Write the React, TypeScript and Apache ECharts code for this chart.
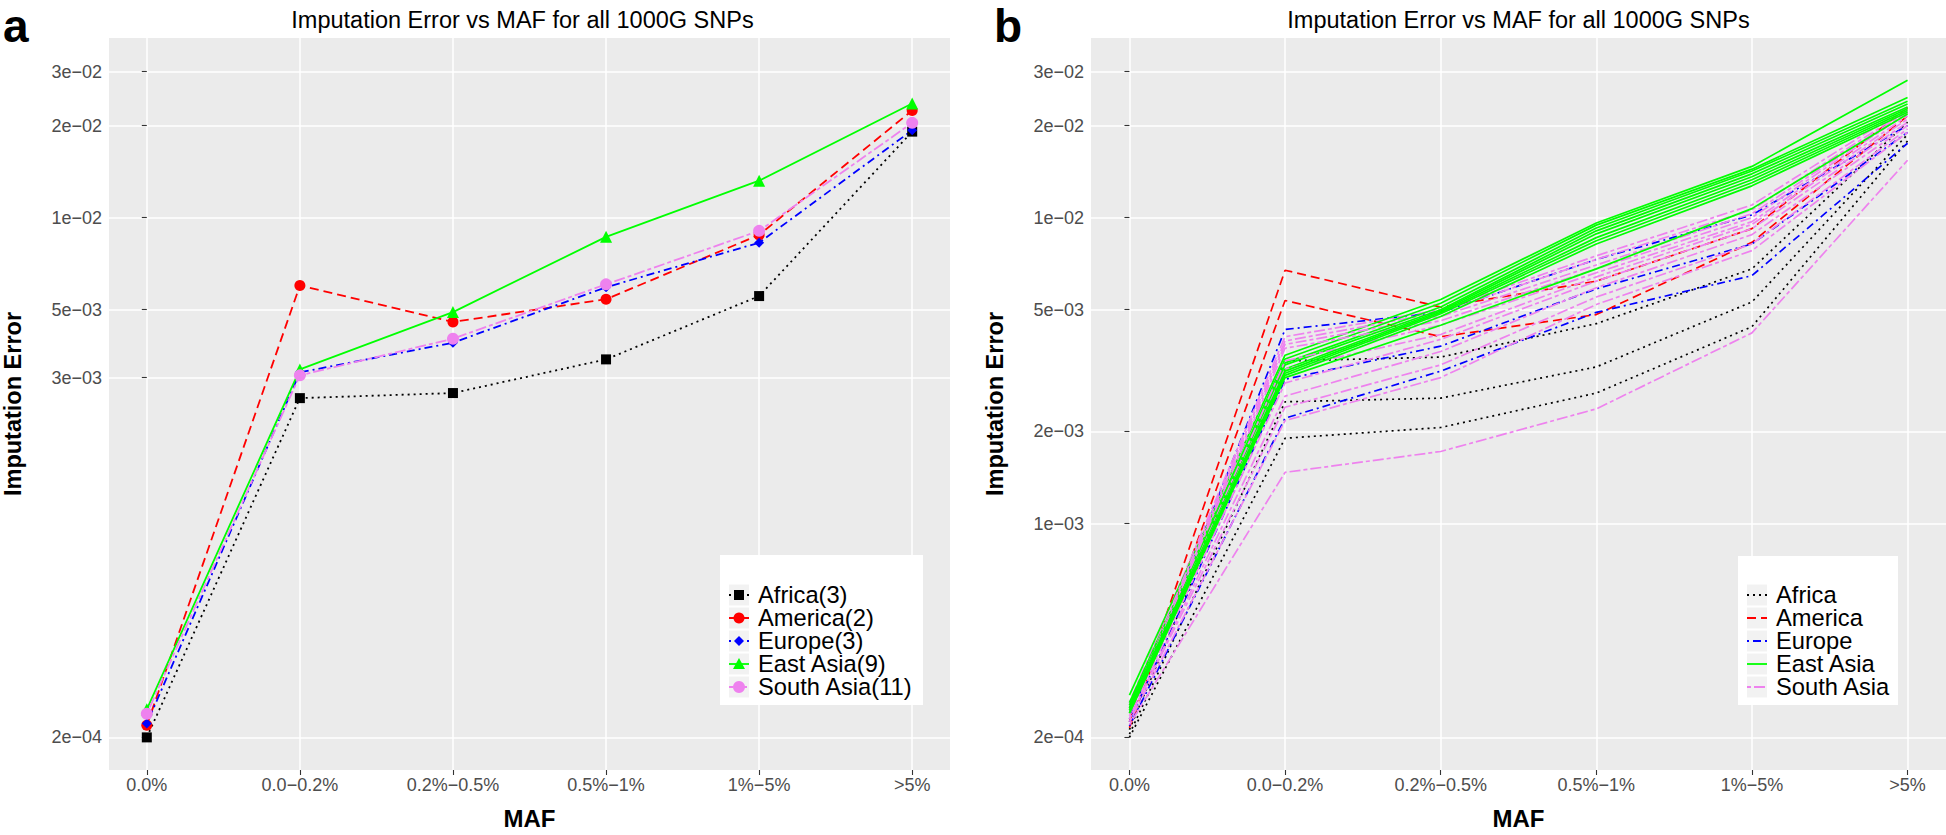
import { useEffect, useRef } from "react";
import * as echarts from "echarts";

// ---------- data ----------
const categories = ["0.0%", "0.0\u22120.2%", "0.2%\u22120.5%", "0.5%\u22121%", "1%\u22125%", ">5%"];
const panelTitle = "Imputation Error vs MAF for all 1000G SNPs";
const yAxisTitle = "Imputation Error";
const xAxisTitle = "MAF";

const yTicksA = [2e-4, 3e-3, 5e-3, 1e-2, 2e-2, 3e-2];
const yTickLabelsA = ["2e\u221204", "3e\u221203", "5e\u221203", "1e\u221202", "2e\u221202", "3e\u221202"];
const yTicksB = [2e-4, 1e-3, 2e-3, 5e-3, 1e-2, 2e-2, 3e-2];
const yTickLabelsB = ["2e\u221204", "1e\u221203", "2e\u221203", "5e\u221203", "1e\u221202", "2e\u221202", "3e\u221202"];

const regionsA = ["Africa(3)", "America(2)", "Europe(3)", "East Asia(9)", "South Asia(11)"];
const regionsB = ["Africa", "America", "Europe", "East Asia", "South Asia"];

// panel a: region averages
const africaMean = [2.0e-4, 2.57e-3, 2.67e-3, 3.44e-3, 5.54e-3, 1.91e-2];
const americaMean = [2.19e-4, 6.0e-3, 4.56e-3, 5.41e-3, 8.78e-3, 2.24e-2];
const europeMean = [2.22e-4, 3.12e-3, 3.9e-3, 5.92e-3, 8.28e-3, 1.93e-2];
const eastAsiaMean = [2.47e-4, 3.19e-3, 4.91e-3, 8.65e-3, 1.32e-2, 2.36e-2];
const southAsiaMean = [2.39e-4, 3.05e-3, 4.02e-3, 6.05e-3, 9.05e-3, 2.04e-2];

// panel b: individual populations
const africaPops = [
  [2.12e-4, 3.4e-3, 3.5e-3, 4.5e-3, 6.8e-3, 2.05e-2],
  [2.05e-4, 2.5e-3, 2.57e-3, 3.25e-3, 5.3e-3, 1.87e-2],
  [2.0e-4, 1.9e-3, 2.06e-3, 2.67e-3, 4.4e-3, 1.78e-2],
];
const americaPops = [
  [2.25e-4, 6.73e-3, 5.1e-3, 6.2e-3, 9.2e-3, 2.29e-2],
  [2.15e-4, 5.36e-3, 4.08e-3, 4.82e-3, 8.3e-3, 2.15e-2],
];
const europePops = [
  [2.3e-4, 4.31e-3, 4.9e-3, 7.3e-3, 1.02e-2, 2.0e-2],
  [2.25e-4, 2.96e-3, 3.8e-3, 5.85e-3, 8.2e-3, 1.9e-2],
  [2.18e-4, 2.21e-3, 3.15e-3, 4.9e-3, 6.46e-3, 1.75e-2],
];
const eastAsiaPops = [
  [2.75e-4, 3.55e-3, 5.4e-3, 9.6e-3, 1.47e-2, 2.81e-2],
  [2.6e-4, 3.45e-3, 5.25e-3, 9.45e-3, 1.44e-2, 2.47e-2],
  [2.55e-4, 3.35e-3, 5.1e-3, 9.25e-3, 1.42e-2, 2.4e-2],
  [2.5e-4, 3.3e-3, 5.0e-3, 9.05e-3, 1.39e-2, 2.35e-2],
  [2.5e-4, 3.2e-3, 4.95e-3, 8.85e-3, 1.36e-2, 2.3e-2],
  [2.45e-4, 3.15e-3, 4.9e-3, 8.6e-3, 1.33e-2, 2.27e-2],
  [2.45e-4, 3.1e-3, 4.85e-3, 8.4e-3, 1.3e-2, 2.24e-2],
  [2.4e-4, 3.05e-3, 4.75e-3, 8.2e-3, 1.27e-2, 2.21e-2],
  [2.4e-4, 3.0e-3, 4.45e-3, 6.8e-3, 1.07e-2, 2.18e-2],
];
const southAsiaPops = [
  [2.6e-4, 4.08e-3, 5.0e-3, 7.5e-3, 1.1e-2, 2.3e-2],
  [2.55e-4, 3.95e-3, 4.9e-3, 7.3e-3, 1.06e-2, 2.25e-2],
  [2.5e-4, 3.85e-3, 4.75e-3, 7.0e-3, 1.03e-2, 2.22e-2],
  [2.45e-4, 3.74e-3, 4.6e-3, 6.8e-3, 1.0e-2, 2.2e-2],
  [2.4e-4, 3.4e-3, 4.45e-3, 6.6e-3, 9.7e-3, 2.15e-2],
  [2.4e-4, 3.2e-3, 4.15e-3, 6.4e-3, 9.5e-3, 2.1e-2],
  [2.35e-4, 2.88e-3, 4.0e-3, 6.2e-3, 9.2e-3, 2.05e-2],
  [2.3e-4, 2.61e-3, 3.65e-3, 5.9e-3, 8.8e-3, 2.0e-2],
  [2.3e-4, 2.4e-3, 3.3e-3, 5.5e-3, 8.2e-3, 1.95e-2],
  [2.25e-4, 2.17e-3, 3.0e-3, 5.2e-3, 7.8e-3, 1.9e-2],
  [2.2e-4, 1.47e-3, 1.72e-3, 2.37e-3, 4.2e-3, 1.54e-2],
];

// ---------- styles ----------
const FONT = "'Liberation Sans', Arial, Helvetica, sans-serif";
const styles = [
  { color: "#000000", dash: [2, 4], symbol: "rect", size: 10 },
  { color: "#FF0000", dash: [9, 5], symbol: "circle", size: 11 },
  { color: "#0000FF", dash: [2, 4, 8, 4], symbol: "diamond", size: 10 },
  { color: "#00FF00", dash: null as number[] | null, symbol: "triangle", size: 12 },
  { color: "#EE82EE", dash: [4, 3, 11, 3], symbol: "circle", size: 12 },
];

const GRID_TOP = 38;
const GRID_H = 740;
const GRID_W = 855;
const GRID_LEFT = [95, 1091];
const Y_MIN = 1.5647e-4;
const Y_MAX = 0.03864;
const X_MIN = -0.247;
const X_MAX = 5.247;

function tickLabel(ticks: number[], labels: string[]) {
  return (v: number) => {
    for (let i = 0; i < ticks.length; i++) {
      if (Math.abs(Math.log10(v) - Math.log10(ticks[i])) < 1e-4) return labels[i];
    }
    return "";
  };
}

function makeXAxis(gridIndex: number) {
  const idx = categories.map((_, i) => i);
  return {
    type: "value",
    gridIndex,
    min: X_MIN,
    max: X_MAX,
    axisLine: { show: false },
    axisTick: { show: true, customValues: idx, length: 5, lineStyle: { color: "#333333", width: 1.1 } },
    axisLabel: {
      customValues: idx,
      formatter: (v: number) => categories[Math.round(v)] ?? "",
      fontSize: 18,
      color: "#4d4d4d",
      margin: 6,
      fontFamily: FONT,
    },
    splitLine: { show: true, lineStyle: { color: "#ffffff", width: 1.5 } },
    name: xAxisTitle,
    nameLocation: "middle",
    nameGap: 36,
    nameTextStyle: { fontSize: 24, fontWeight: "bold", color: "#000000", fontFamily: FONT },
  };
}

function makeYAxis(gridIndex: number, ticks: number[], labels: string[]) {
  return {
    type: "log",
    logBase: 10,
    gridIndex,
    min: Y_MIN,
    max: Y_MAX,
    axisLine: { show: false },
    axisTick: { show: true, customValues: ticks, length: 5, lineStyle: { color: "#333333", width: 1.1 } },
    axisLabel: {
      customValues: ticks,
      formatter: tickLabel(ticks, labels),
      fontSize: 18,
      color: "#4d4d4d",
      margin: 7,
      fontFamily: FONT,
    },
    splitLine: { show: true, lineStyle: { color: "#ffffff", width: 1.5 } },
    minorSplitLine: { show: false },
    name: yAxisTitle,
    nameLocation: "middle",
    nameGap: 84,
    nameTextStyle: { fontSize: 23.5, fontWeight: "bold", color: "#000000", fontFamily: FONT },
  };
}

function legendGraphics(boxX: number, boxY: number, boxW: number, boxH: number, keyX: number, textX: number, names: string[], withSymbols: boolean) {
  const els: any[] = [];
  els.push({ type: "rect", shape: { x: boxX, y: boxY, width: boxW, height: boxH }, style: { fill: "#ffffff" }, z: 100 });
  names.forEach((name, k) => {
    const cy = 595 + k * 23;
    const st = styles[k];
    const cx = keyX + 10;
    els.push({ type: "rect", shape: { x: keyX, y: cy - 10.5, width: 20, height: 21 }, style: { fill: "#f2f2f2" }, z: 101 });
    els.push({
      type: "line",
      shape: { x1: keyX, y1: cy, x2: keyX + 20, y2: cy },
      style: { stroke: st.color, lineWidth: 1.8, lineDash: st.dash || undefined },
      z: 102,
    });
    if (withSymbols) {
      const h = st.size / 2;
      if (st.symbol === "rect") {
        els.push({ type: "rect", shape: { x: cx - h, y: cy - h, width: st.size, height: st.size }, style: { fill: st.color }, z: 103 });
      } else if (st.symbol === "circle") {
        els.push({ type: "circle", shape: { cx, cy, r: h }, style: { fill: st.color }, z: 103 });
      } else if (st.symbol === "diamond") {
        els.push({ type: "polygon", shape: { points: [[cx, cy - h], [cx + h, cy], [cx, cy + h], [cx - h, cy]] }, style: { fill: st.color }, z: 103 });
      } else if (st.symbol === "triangle") {
        els.push({ type: "polygon", shape: { points: [[cx, cy - h], [cx + h, cy + h * 0.85], [cx - h, cy + h * 0.85]] }, style: { fill: st.color }, z: 103 });
      }
    }
    els.push({
      type: "text",
      style: { text: name, x: textX, y: cy, fill: "#000000", font: `23.7px ${FONT}`, textAlign: "left", textVerticalAlign: "middle" },
      z: 103,
    });
  });
  return els;
}

function buildOption() {
  const means = [africaMean, americaMean, europeMean, eastAsiaMean, southAsiaMean];
  const seriesA = means.map((vals, k) => ({
    type: "line",
    name: regionsA[k],
    xAxisIndex: 0,
    yAxisIndex: 0,
    data: vals.map((v, i) => [i, v]),
    symbol: styles[k].symbol,
    symbolSize: styles[k].size,
    showSymbol: true,
    lineStyle: { color: styles[k].color, width: 1.8, type: styles[k].dash || "solid", cap: "butt" },
    itemStyle: { color: styles[k].color, borderWidth: 0 },
    silent: true,
  }));

  const pops = [africaPops, americaPops, europePops, eastAsiaPops, southAsiaPops];
  const seriesB: any[] = [];
  const pushPop = (k: number, vals: number[]) =>
    seriesB.push({
      type: "line",
      name: regionsB[k],
      xAxisIndex: 1,
      yAxisIndex: 1,
      data: vals.map((v, i) => [i, v]),
      symbol: "none",
      lineStyle: { color: styles[k].color, width: 1.7, type: styles[k].dash || "solid", cap: "butt" },
      itemStyle: { color: styles[k].color },
      silent: true,
    });
  [0, 1, 2].forEach((k) => pops[k].forEach((v) => pushPop(k, v)));
  const nEA = eastAsiaPops.length;
  const nSA = southAsiaPops.length;
  for (let i = 0; i < Math.max(nEA, nSA); i++) {
    if (i < nSA) pushPop(4, southAsiaPops[i]);
    if (i < nEA) pushPop(3, eastAsiaPops[i]);
  }

  const centers = GRID_LEFT.map((l) => l + GRID_W / 2);
  const graphics: any[] = [
    { type: "text", style: { text: "a", x: 3, y: 25.7, fill: "#000", font: `bold 46px ${FONT}`, textAlign: "left", textVerticalAlign: "middle" } },
    { type: "text", style: { text: "b", x: 994, y: 25.7, fill: "#000", font: `bold 46px ${FONT}`, textAlign: "left", textVerticalAlign: "middle" } },
    { type: "text", style: { text: panelTitle, x: centers[0], y: 19.6, fill: "#000", font: `23.5px ${FONT}`, textAlign: "center", textVerticalAlign: "middle" } },
    { type: "text", style: { text: panelTitle, x: centers[1], y: 19.6, fill: "#000", font: `23.5px ${FONT}`, textAlign: "center", textVerticalAlign: "middle" } },
    ...legendGraphics(720, 555, 203, 150, 729, 758, regionsA, true),
    ...legendGraphics(1738, 556, 160, 149, 1747, 1776, regionsB, false),
  ];

  return {
    animation: false,
    textStyle: { fontFamily: FONT },
    grid: GRID_LEFT.map((left) => ({
      left,
      top: GRID_TOP,
      width: GRID_W,
      height: GRID_H,
      show: true,
      backgroundColor: "#ebebeb",
      borderWidth: 0,
      containLabel: false,
    })),
    xAxis: [makeXAxis(0), makeXAxis(1)],
    yAxis: [makeYAxis(0, yTicksA, yTickLabelsA), makeYAxis(1, yTicksB, yTickLabelsB)],
    series: [...seriesA, ...seriesB],
    graphic: graphics,
  };
}

export default function App() {
  const ref = useRef<HTMLDivElement>(null);
  useEffect(() => {
    const el = ref.current;
    if (!el) return;
    const chart = echarts.init(el, null, { renderer: "svg", width: 1946, height: 835 });
    chart.setOption(buildOption() as any);
    return () => chart.dispose();
  }, []);
  return (
    <div
      ref={ref}
      style={{ position: "fixed", left: 0, top: 0, width: 1946, height: 835, background: "#ffffff" }}
    />
  );
}
